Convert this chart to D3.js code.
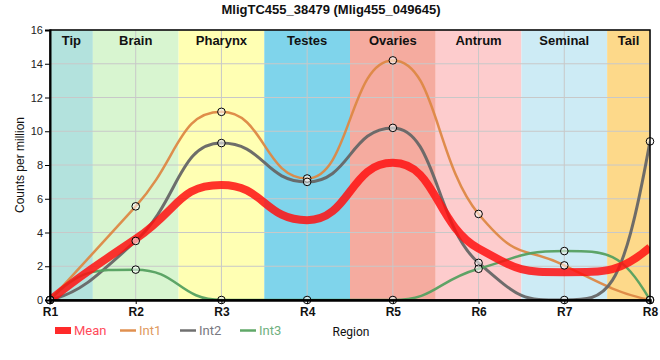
<!DOCTYPE html>
<html><head><meta charset="utf-8">
<script src="https://cdn.jsdelivr.net/npm/d3@7"></script>
<style>body{margin:0;background:#fff}svg{display:block}</style>
</head><body><svg id="c" width="660" height="360"></svg>
<script>
const title = "MligTC455_38479 (Mlig455_049645)";
const regions = ["R1","R2","R3","R4","R5","R6","R7","R8"];
const bandNames = ["Tip","Brain","Pharynx","Testes","Ovaries","Antrum","Seminal","Tail"];
const bandColors = ["#b3e2dd","#d8f5d0","#ffffb3","#7fd4eb","#f5ab9f","#fdcccd","#cdebf5","#fdd98a"];
const int1 = [0, 5.55, 11.15, 7.2, 14.2, 5.1, 2.05, 0];
const int2 = [0, 3.5, 9.3, 7.0, 10.2, 2.2, 0, 9.4];
const int3 = [0, 1.8, 0, 0, 0, 1.85, 2.9, 0];
const meanVals = [0, 3.62, 6.82, 4.73, 8.13, 3.05, 1.65, 3.13];
const yTicks = [0,2,4,6,8,10,12,14,16];

const svg = d3.select("#c");
const L=50, R=650, T=30, B=300;
const x = d3.scalePoint().domain(regions).range([L,R]);
const y = d3.scaleLinear().domain([0,16]).range([B,T]);
const step = x.step();

svg.append("defs").append("clipPath").attr("id","clip")
  .append("rect").attr("x",L).attr("y",T).attr("width",R-L).attr("height",B-T);

// bands
const bandEdges = regions.map((r,i)=>[Math.max(L,x(r)-step/2), Math.min(R,x(r)+step/2)]);
svg.append("g").selectAll("rect").data(bandNames).join("rect")
  .attr("x",(d,i)=>bandEdges[i][0]).attr("y",T)
  .attr("width",(d,i)=>bandEdges[i][1]-bandEdges[i][0]).attr("height",B-T)
  .attr("fill",(d,i)=>bandColors[i]);

// grid
const g = svg.append("g");
g.selectAll(".hg").data(yTicks).join("line")
  .attr("x1",L).attr("x2",R).attr("y1",d=>y(d)).attr("y2",d=>y(d))
  .attr("stroke","#c8c8c8").attr("stroke-width",1);
g.selectAll(".vg").data(regions).join("line")
  .attr("x1",d=>x(d)).attr("x2",d=>x(d)).attr("y1",T).attr("y2",B)
  .attr("stroke","#c8c8c8").attr("stroke-width",1);

// band labels
svg.append("g").selectAll("text").data(bandNames).join("text")
  .attr("x",(d,i)=>(bandEdges[i][0]+bandEdges[i][1])/2).attr("y",T+15)
  .attr("text-anchor","middle").attr("font-family","Liberation Sans, Arial, sans-serif")
  .attr("font-weight","bold").attr("font-size",13).attr("fill","#111").text(d=>d);

// smooth spline path (flat at extrema, control points kept between neighbours)
function splinePath(vals){
  const pts = vals.map((v,i)=>[x(regions[i]), y(v)]);
  const n = pts.length, sm = 1.0, den = sm + 1;
  const left = new Array(n), right = new Array(n);
  for(let i=1;i<n-1;i++){
    const [px,py]=pts[i],[lx,ly]=pts[i-1],[nx,ny]=pts[i+1];
    let lcx=(sm*px+lx)/den, lcy=(sm*py+ly)/den, rcx=(sm*px+nx)/den, rcy=(sm*py+ny)/den;
    const corr = ((rcy-lcy)*(rcx-px))/(rcx-lcx) + py - rcy;
    lcy+=corr; rcy+=corr;
    if(lcy>ly && lcy>py){lcy=Math.max(ly,py); rcy=2*py-lcy;}
    else if(lcy<ly && lcy<py){lcy=Math.min(ly,py); rcy=2*py-lcy;}
    if(rcy>ny && rcy>py){rcy=Math.max(ny,py); lcy=2*py-rcy;}
    else if(rcy<ny && rcy<py){rcy=Math.min(ny,py); lcy=2*py-rcy;}
    left[i]=[lcx,lcy]; right[i]=[rcx,rcy];
  }
  const h0 = pts[1][0]-pts[0][0];
  const s0 = (pts[1][1]-pts[0][1])/h0;
  const m1 = (right[1][1]-left[1][1])/(right[1][0]-left[1][0]);
  const e0 = 3*s0 - 2*m1;
  right[0] = [pts[0][0]+h0/3, pts[0][1]+e0*h0/3];
  const hn = pts[n-1][0]-pts[n-2][0];
  const sn = (pts[n-1][1]-pts[n-2][1])/hn;
  const mn1 = (right[n-2][1]-left[n-2][1])/(right[n-2][0]-left[n-2][0]);
  const en = 3*sn - 2*mn1;
  left[n-1] = [pts[n-1][0]-hn/3, pts[n-1][1]-en*hn/3];
  const p = d3.path();
  p.moveTo(pts[0][0], pts[0][1]);
  for(let i=1;i<n;i++){
    p.bezierCurveTo(right[i-1][0], right[i-1][1], left[i][0], left[i][1], pts[i][0], pts[i][1]);
  }
  return p.toString();
}

const series = [
  {name:"Int1", vals:int1, color:"#dd8844", w:2.5},
  {name:"Int2", vals:int2, color:"#666666", w:3},
  {name:"Int3", vals:int3, color:"#55a060", w:2.5},
];
const lines = svg.append("g").attr("clip-path","url(#clip)");
series.forEach(s=>{
  lines.append("path").attr("d",splinePath(s.vals)).attr("fill","none")
    .attr("stroke",s.color).attr("stroke-width",s.w).attr("opacity",0.95);
});
lines.append("path").attr("d",splinePath(meanVals)).attr("fill","none")
  .attr("stroke","#ff1010").attr("stroke-width",8).attr("opacity",0.85);

series.forEach(s=>{
  svg.append("g").selectAll("circle").data(s.vals).join("circle")
    .attr("cx",(d,i)=>x(regions[i])).attr("cy",d=>y(d)).attr("r",3.8)
    .attr("fill","rgba(255,255,255,0.55)").attr("stroke","#000").attr("stroke-width",1);
});

// frame
svg.append("rect").attr("x",L).attr("y",T).attr("width",R-L).attr("height",B-T)
  .attr("fill","none").attr("stroke","#000").attr("stroke-width",1.5);

// axes
const ya = svg.append("g").attr("transform",`translate(${L},0)`)
  .call(d3.axisLeft(y).tickValues(yTicks).tickSize(5).tickPadding(2));
ya.select(".domain").attr("stroke-width",2);
ya.selectAll("text").attr("font-family","Liberation Sans, Arial, sans-serif").attr("font-size",11).attr("fill","#222");
const xa = svg.append("g").attr("transform",`translate(0,${B})`)
  .call(d3.axisBottom(x).tickSize(4).tickPadding(3));
xa.select(".domain").attr("stroke-width",2.5);
xa.selectAll("text").attr("font-family","Liberation Sans, Arial, sans-serif").attr("font-size",12)
  .attr("font-weight","bold").attr("fill","#111");

// title
svg.append("text").attr("x",331).attr("y",14).attr("text-anchor","middle")
  .attr("font-family","Liberation Sans, Arial, sans-serif").attr("font-weight","bold")
  .attr("font-size",13).attr("fill","#111").text(title);

// y label
svg.append("text").attr("transform","translate(24,165) rotate(-90)").attr("text-anchor","middle")
  .attr("font-family","Liberation Sans, Arial, sans-serif").attr("font-size",12).attr("fill","#111")
  .text("Counts per million");

// x label
svg.append("text").attr("x",351).attr("y",336).attr("text-anchor","middle")
  .attr("font-family","Roboto, Liberation Sans, sans-serif").attr("font-size",12).attr("fill","#111")
  .text("Region");

// legend
const legend = [
  {name:"Mean", color:"#ff2a2a", tcolor:"#ff4a5a", x:55, type:"rect"},
  {name:"Int1", color:"#e09050", tcolor:"#e09a60", x:120, type:"line"},
  {name:"Int2", color:"#707070", tcolor:"#787880", x:180, type:"line"},
  {name:"Int3", color:"#60a868", tcolor:"#70b080", x:240, type:"line"},
];
const lg = svg.append("g");
legend.forEach(d=>{
  if(d.type==="rect") lg.append("rect").attr("x",d.x).attr("y",327).attr("width",16).attr("height",7).attr("fill",d.color);
  else lg.append("line").attr("x1",d.x).attr("x2",d.x+16).attr("y1",330.5).attr("y2",330.5).attr("stroke",d.color).attr("stroke-width",2.5);
  lg.append("text").attr("x",d.x+19).attr("y",335).attr("font-family","Roboto, Liberation Sans, sans-serif")
    .attr("font-size",13).attr("fill",d.tcolor).text(d.name);
});
</script></body></html>
